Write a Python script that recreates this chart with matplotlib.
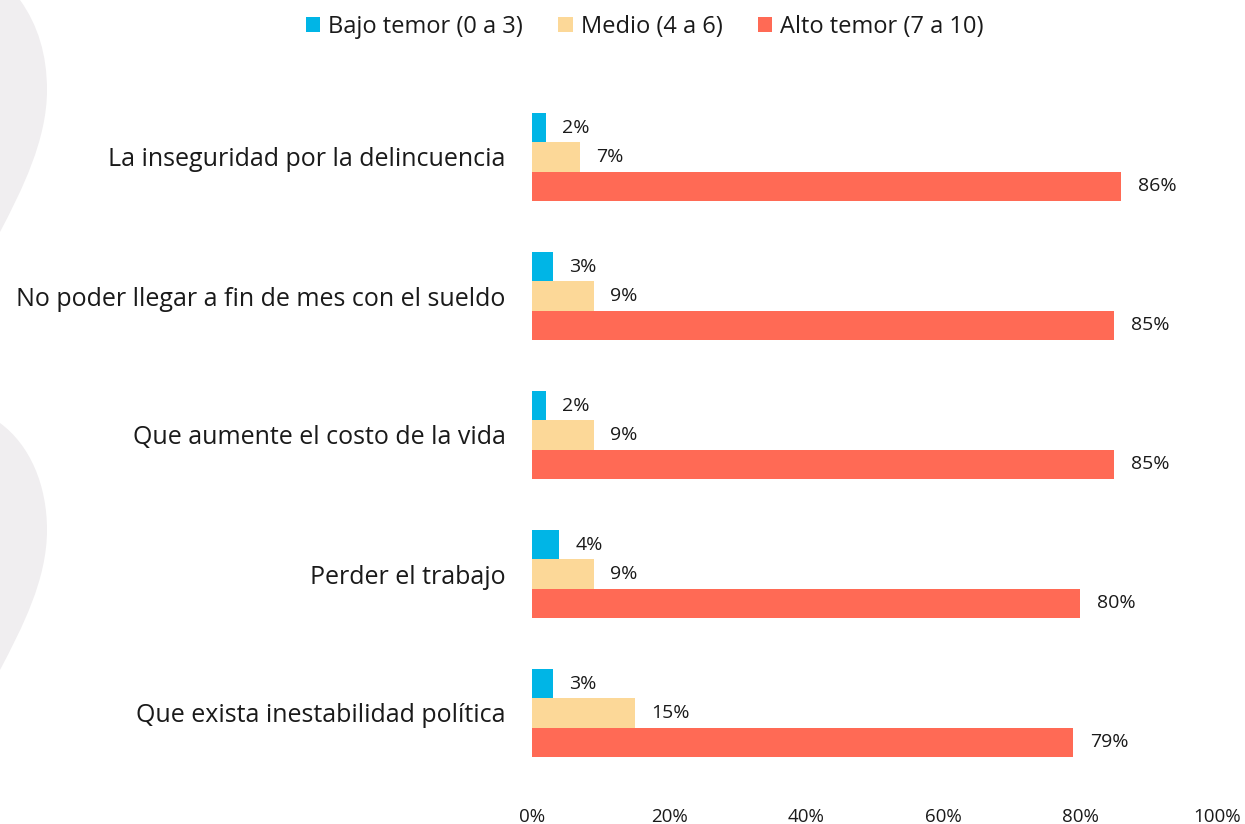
import numpy as np
import matplotlib.pyplot as plt
from matplotlib.path import Path
from matplotlib.patches import PathPatch
from matplotlib.ticker import PercentFormatter

plt.rcParams['font.family'] = ['Open Sans', 'DejaVu Sans']

# data
categories = [
    'La inseguridad por la delincuencia',
    'No poder llegar a fin de mes con el sueldo',
    'Que aumente el costo de la vida',
    'Perder el trabajo',
    'Que exista inestabilidad política',
]
series_names = ['Bajo temor (0 a 3)', 'Medio (4 a 6)', 'Alto temor (7 a 10)']
bajo = [2, 3, 2, 4, 3]
medio = [7, 9, 9, 9, 15]
alto = [86, 85, 85, 80, 79]
colors = ['#00B5E6', '#FCD898', '#FF6A55']

fig = plt.figure(figsize=(12.45, 8.24), dpi=100)

# decorative background shapes on the left
bg = fig.add_axes([0, 0, 1, 1], zorder=-5)
bg.set_xlim(0, 1245)
bg.set_ylim(824, 0)
bg.axis('off')
C = Path.CURVE4
shape1 = Path([(0, 0), (20, 0), (38, 25), (47, 55), (47, 90),
               (47, 140), (22, 190), (0, 232), (0, 0)],
              [Path.MOVETO, Path.LINETO, C, C, C, C, C, C, Path.CLOSEPOLY])
shape2 = Path([(0, 423), (30, 445), (47, 485), (47, 530),
               (47, 580), (22, 628), (0, 670), (0, 423)],
              [Path.MOVETO, C, C, C, C, C, C, Path.CLOSEPOLY])
for p in (shape1, shape2):
    bg.add_patch(PathPatch(p, facecolor='#F0EEF0', edgecolor='none'))

ax = fig.add_axes([532 / 1245, 1 - 782.5 / 824, (1217 - 532) / 1245, (782.5 - 87.5) / 824])
ax.patch.set_alpha(0)

y = np.arange(len(categories))
h = 0.21
all_vals = [bajo, medio, alto]
for i, (vals, name, col) in enumerate(zip(all_vals, series_names, colors)):
    v = np.array(vals) / 100
    bars = ax.barh(y + (i - 1) * h, v, height=h, color=col, label=name)
    for b, val in zip(bars, vals):
        ax.annotate(f'{val}%', (b.get_width(), b.get_y() + b.get_height() / 2),
                    xytext=(12, 0), textcoords='offset points',
                    ha='left', va='center', fontsize=14, color='#1a1a1a')

ax.set_xlim(0, 1)
ax.set_ylim(len(categories) - 0.5, -0.5)
ax.set_yticks(y)
ax.set_yticklabels(categories, fontsize=18, color='#1a1a1a')
ax.set_xticks(np.arange(0, 1.01, 0.2))
ax.xaxis.set_major_formatter(PercentFormatter(1.0, decimals=0))
ax.tick_params(axis='x', length=0, pad=18, labelsize=13.5, labelcolor='#1a1a1a')
ax.tick_params(axis='y', length=0, pad=19)
for s in ax.spines.values():
    s.set_visible(False)

fig.legend(loc='upper center', bbox_to_anchor=(0.518, 1.008), ncol=3, frameon=False,
           fontsize=17, handlelength=0.6, handleheight=0.6, handletextpad=0.35,
           columnspacing=1.5, labelcolor='#1a1a1a')

fig.savefig('out.png', dpi=100)
